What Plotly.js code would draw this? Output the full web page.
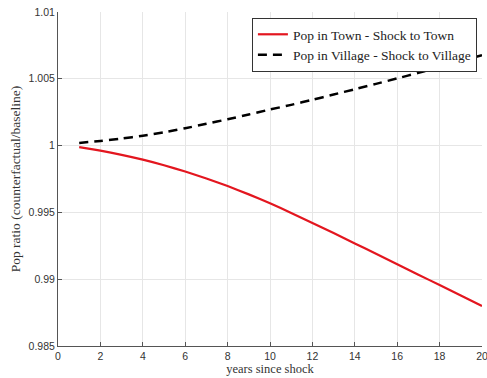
<!DOCTYPE html>
<html>
<head>
<meta charset="utf-8">
<script src="https://cdn.plot.ly/plotly-3.0.1.min.js"></script>
<style>html,body{margin:0;padding:0;background:#fff;}#chart{width:487px;height:378px;}</style>
</head>
<body>
<div id="chart"></div>
<script>
const years = [1,2,3,4,5,6,7,8,9,10,11,12,13,14,15,16,17,18,19,20];
const townPop = [0.99988,0.99962,0.99931,0.99895,0.99853,0.99806,0.99754,0.99697,0.99635,0.99568,0.99496,0.99421,0.99345,0.99268,0.99190,0.99112,0.99034,0.98956,0.98878,0.98800];
const villagePop = [1.00020,1.00035,1.00053,1.00074,1.00100,1.00130,1.00163,1.00197,1.00233,1.00270,1.00305,1.00343,1.00382,1.00422,1.00462,1.00503,1.00545,1.00588,1.00632,1.00677];
const seriesNames = ["Pop in Town - Shock to Town","Pop in Village - Shock to Village"];
const yTickVals = [0.985,0.99,0.995,1,1.005,1.01];
const yTickText = ["0.985","0.99","0.995","1","1.005","1.01"];
const xTickVals = [0,2,4,6,8,10,12,14,16,18,20];

const data = [
  {x: years, y: townPop, name: seriesNames[0], mode: "lines", type: "scatter",
   line: {color: "#e3161f", width: 2.2, shape: "spline", smoothing: 0.6}},
  {x: years, y: villagePop, name: seriesNames[1], mode: "lines", type: "scatter",
   line: {color: "#000000", width: 2.5, dash: "9px,6px", shape: "spline", smoothing: 0.6}}
];

const axisCommon = {
  showgrid: true, gridcolor: "#e6e6e6", gridwidth: 1,
  showline: true, linecolor: "#555", linewidth: 1,
  ticks: "inside", ticklen: 4, tickcolor: "#555",
  zeroline: false, mirror: false, ticklabeloverflow: "allow",
  tickfont: {family: "Liberation Sans, Arial, sans-serif", size: 10.5, color: "#333"}
};

const layout = {
  width: 487, height: 378,
  margin: {l: 58, r: 5, t: 12, b: 32},
  paper_bgcolor: "#fff", plot_bgcolor: "#fff",
  showlegend: true,
  legend: {x: 0.988, y: 0.982, xanchor: "right", yanchor: "top",
    bgcolor: "#fff", bordercolor: "#333", borderwidth: 1,
    font: {family: "Liberation Serif, Times New Roman, serif", size: 13.5, color: "#222"},
    tracegroupgap: 0, itemwidth: 30},
  xaxis: Object.assign({}, axisCommon, {
    range: [0, 20], tickvals: xTickVals,
    title: {text: "years since shock", standoff: 2,
      font: {family: "Liberation Serif, Times New Roman, serif", size: 12.5, color: "#333"}}
  }),
  yaxis: Object.assign({}, axisCommon, {
    range: [0.985, 1.01], tickvals: yTickVals, ticktext: yTickText,
    title: {text: "Pop ratio (counterfactual/baseline)", standoff: 4,
      font: {family: "Liberation Serif, Times New Roman, serif", size: 13.5, color: "#333"}}
  })
};

Plotly.newPlot("chart", data, layout, {displayModeBar: false, staticPlot: true});
</script>
</body>
</html>
